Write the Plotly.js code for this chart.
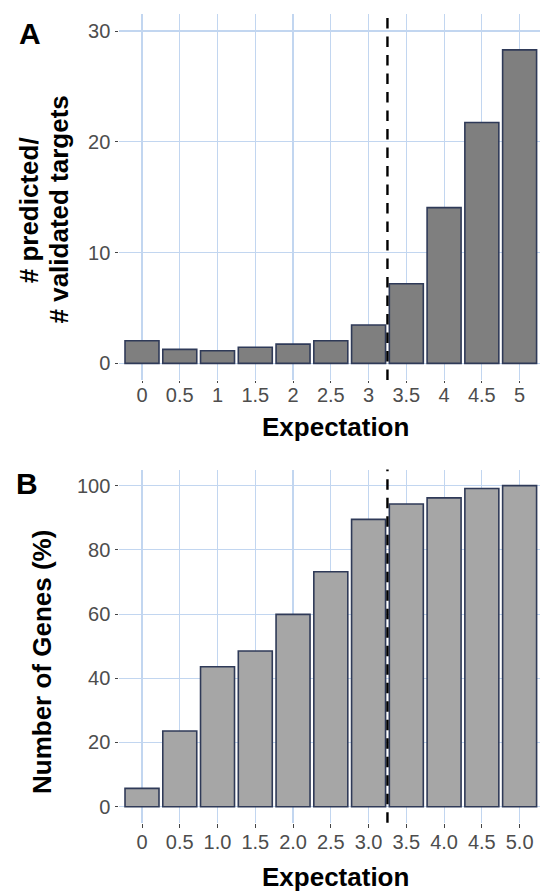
<!DOCTYPE html>
<html>
<head>
<meta charset="utf-8">
<script src="https://cdn.plot.ly/plotly-3.0.1.min.js"></script>
<style>
html,body{margin:0;padding:0;background:#fff;}
#chart{width:540px;height:895px;}
</style>
</head>
<body>
<div id="chart"></div>
<script>
// ---- data ----
const categoriesA = ["0","0.5","1","1.5","2","2.5","3","3.5","4","4.5","5"];
const ratioValues = [2.04, 1.26, 1.14, 1.45, 1.74, 2.04, 3.46, 7.19, 14.06, 21.74, 28.3];
const categoriesB = ["0","0.5","1.0","1.5","2.0","2.5","3.0","3.5","4.0","4.5","5.0"];
const genePercent = [5.7, 23.6, 43.6, 48.5, 59.9, 73.2, 89.5, 94.3, 96.2, 99.1, 100];
const yTicksA = [0, 10, 20, 30];
const yTicksB = [0, 20, 40, 60, 80, 100];
const cutoffPosition = 6.5; // between "3" and "3.5"

// ---- styling ----
const W = 540, H = 895;
const FONT = "Liberation Sans, Arial, sans-serif";
const gridColor = "#c2d6f0";
const tickFont = {family: FONT, size: 20, color: "#4d4d4d"};
const titleFont = {family: FONT, size: 26, color: "#000", weight: "bold"};
const outline = {color: "#2f3a58", width: 1.6};

const px = v => v / W;
const py = v => 1 - v / H;

const xDomain = [119.35 / W, 1];
const xRange = [-0.6, 10.54];

const traces = [
  {type: "bar", x: categoriesA, y: ratioValues, xaxis: "x", yaxis: "y",
   width: 0.9, marker: {color: "#7f7f7f", line: outline}, hoverinfo: "skip"},
  {type: "bar", x: categoriesB, y: genePercent, xaxis: "x2", yaxis: "y2",
   width: 0.9, marker: {color: "#a6a6a6", line: outline}, hoverinfo: "skip"}
];

const baseX = {
  type: "category", domain: xDomain, range: xRange,
  showgrid: true, gridcolor: gridColor, gridwidth: 1.1,
  zeroline: false, showline: false,
  ticks: "outside", tickcolor: "#444", tickwidth: 1,
  tickfont: tickFont, fixedrange: true
};
const baseY = {
  showgrid: true, gridcolor: gridColor, gridwidth: 1.1,
  zeroline: false, showline: false,
  ticks: "outside", ticklen: 3, tickcolor: "#444", tickwidth: 1,
  tickfont: tickFont, fixedrange: true, tickmode: "array", ticklabelstandoff: 1
};

const layout = {
  width: W, height: H,
  margin: {l: 0, r: 0, t: 0, b: 0},
  paper_bgcolor: "#fff", plot_bgcolor: "#fff",
  showlegend: false,
  bargap: 0,
  xaxis: Object.assign({}, baseX, {anchor: "y", ticklen: 2, ticklabelstandoff: -5}),
  yaxis: Object.assign({}, baseY, {anchor: "x", domain: [py(380), py(14.4)], range: [-1.5, 31.5],
    tickvals: yTicksA, ticktext: yTicksA.map(String)}),
  xaxis2: Object.assign({}, baseX, {anchor: "y2", ticklen: 4, ticklabelstandoff: -3}),
  yaxis2: Object.assign({}, baseY, {anchor: "x2", domain: [py(822.75), py(469.6)], range: [-5, 105],
    tickvals: yTicksB, ticktext: yTicksB.map(String)}),
  shapes: [
    {type: "line", xref: "x", yref: "y domain", x0: cutoffPosition, x1: cutoffPosition, y0: 0, y1: 1,
     line: {color: "#000", width: 2.4, dash: "10.5px,8px"}, layer: "above"},
    {type: "line", xref: "x2", yref: "y2 domain", x0: cutoffPosition, x1: cutoffPosition, y0: 0, y1: 1,
     line: {color: "#000", width: 2.4, dash: "10.5px,8px"}, layer: "above"}
  ],
  annotations: [
    {text: "A", xref: "paper", yref: "paper", x: px(29.5), y: py(33), xanchor: "center", yanchor: "middle",
     showarrow: false, font: {family: FONT, size: 30, color: "#000", weight: "bold"}},
    {text: "B", xref: "paper", yref: "paper", x: px(27), y: py(483), xanchor: "center", yanchor: "middle",
     showarrow: false, font: {family: FONT, size: 30, color: "#000", weight: "bold"}},
    {text: "# predicted/", xref: "paper", yref: "paper", x: px(29.3), y: py(210), textangle: -90,
     xanchor: "center", yanchor: "middle", showarrow: false, font: titleFont},
    {text: "# validated targets", xref: "paper", yref: "paper", x: px(58.5), y: py(210), textangle: -90,
     xanchor: "center", yanchor: "middle", showarrow: false, font: titleFont},
    {text: "Expectation", xref: "paper", yref: "paper", x: px(335), y: py(427), xanchor: "center", yanchor: "middle",
     showarrow: false, font: titleFont},
    {text: "Number of Genes (%)", xref: "paper", yref: "paper", x: px(42), y: py(662), textangle: -90,
     xanchor: "center", yanchor: "middle", showarrow: false, font: titleFont},
    {text: "Expectation", xref: "paper", yref: "paper", x: px(335), y: py(877), xanchor: "center", yanchor: "middle",
     showarrow: false, font: titleFont}
  ]
};

Plotly.newPlot("chart", traces, layout, {displayModeBar: false, staticPlot: true});
</script>
</body>
</html>
